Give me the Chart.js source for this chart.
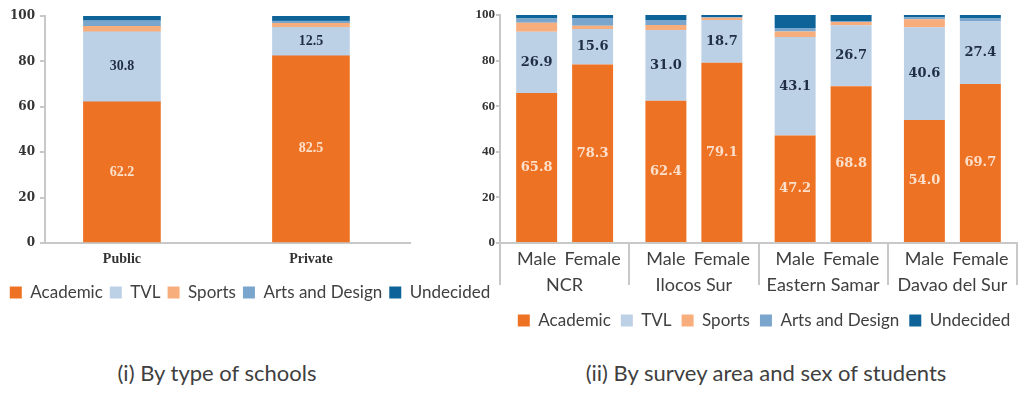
<!DOCTYPE html>
<html>
<head>
<meta charset="utf-8">
<script src="https://cdn.jsdelivr.net/npm/chart.js@4.4.1/dist/chart.umd.min.js"></script>
<style>
  html, body { margin:0; padding:0; background:#fff; overflow:hidden; width:1024px; height:395px; }
  canvas { position:absolute; top:0; }
  #chart-school { left:0; }
  #chart-area { left:452px; }
  .caption { position:absolute; top:359px; font:22px Lato, sans-serif; color:#404040; white-space:nowrap; transform:translateX(-50%); }
</style>
</head>
<body>
<canvas id="chart-school" width="500" height="313"></canvas>
<canvas id="chart-area" width="624" height="341"></canvas>
<div class="caption" style="left:217px">(i) By type of schools</div>
<div class="caption" style="left:766px">(ii) By survey area and sex of students</div>
<script>
/* ====== データ ====== */
const tracks = ['Academic','TVL','Sports','Arts and Design','Undecided'];
const trackColors = ['#EE7223','#BDD1E6','#F8AD7D','#7AA5CC','#0E6499'];

// (i) by type of schools
const schoolTypes = ['Public','Private'];
const academicBySchool  = [62.2, 82.5];
const tvlBySchool       = [30.8, 12.5];
const sportsBySchool    = [2.4, 1.8];
const artsBySchool      = [2.6, 1.0];
const undecidedBySchool = [2.0, 2.2];

// (ii) by survey area and sex
const regions = ['NCR','Ilocos Sur','Eastern Samar','Davao del Sur'];
const sexes = ['Male','Female'];
const academicMale    = [65.8, 62.4, 47.2, 54.0];
const academicFemale  = [78.3, 79.1, 68.8, 69.7];
const tvlMale         = [26.9, 31.0, 43.1, 40.6];
const tvlFemale       = [15.6, 18.7, 26.7, 27.4];
const sportsMale      = [3.9, 2.2, 2.5, 3.5];
const sportsFemale    = [1.4, 1.0, 1.4, 0.0];
const artsMale        = [1.9, 2.2, 1.5, 0.9];
const artsFemale      = [3.4, 0.2, 0.5, 1.4];
const undecidedMale   = [1.5, 2.2, 5.7, 1.0];
const undecidedFemale = [1.3, 1.0, 2.6, 1.5];

const yTicks = [0,20,40,60,80,100];

/* ====== 共通 ====== */
const AXIS = '#c8c8c8';
const TEXT = '#404040';
const valueColors = ['#FCE0CC','#1F2D45'];

// 値ラベル（Academic / TVL のみ）
const barLabels = {
  id:'barLabels',
  afterDatasetsDraw(chart, args, opts){
    const ctx = chart.ctx;
    chart.data.datasets.forEach((ds,i)=>{
      if(ds.valueColor==null) return;
      chart.getDatasetMeta(i).data.forEach((bar,j)=>{
        const raw = ds.data[j];
        const v = typeof raw==='object' ? raw.y : raw;
        const p = bar.getCenterPoint();
        ctx.save();
        ctx.font = opts.font;
        ctx.fillStyle = ds.valueColor;
        ctx.textAlign = 'center';
        ctx.textBaseline = 'middle';
        ctx.fillText(v.toFixed(1), p.x, p.y);
        ctx.restore();
      });
    });
  }
};

// Male / Female の下段ラベル
const sexLabels = {
  id:'sexLabels',
  afterDraw(chart){
    const ctx = chart.ctx;
    const y = chart.scales.x.top + 16;
    ctx.save();
    ctx.font = '18px Lato';
    ctx.fillStyle = TEXT;
    ctx.textAlign = 'center';
    ctx.textBaseline = 'middle';
    sexes.forEach((s,k)=>{
      chart.getDatasetMeta(k).data.forEach(bar=>ctx.fillText(s, bar.x, y));
    });
    ctx.restore();
  }
};

const legendOpts = {
  position:'bottom',
  labels:{ boxWidth:12, boxHeight:12, padding:7, color:TEXT, font:{family:'Lato', size:17} }
};

const spacer = w => ({
  type:'linear', position:'right', display:true,
  ticks:{display:false}, grid:{display:false}, border:{display:false},
  afterFit: s => { s.width = w; }
});

/* ====== (i) 学校種別 ====== */
const schoolSeries = [academicBySchool, tvlBySchool, sportsBySchool, artsBySchool, undecidedBySchool];
new Chart(document.getElementById('chart-school'), {
  type:'bar',
  data:{
    datasets: tracks.map((t,k)=>({
      label:t,
      data: schoolSeries[k].map((v,i)=>({x:i, y:v})),
      backgroundColor: trackColors[k],
      borderWidth:0,
      barThickness:77,
      grouped:false,
      valueColor: k<2 ? valueColors[k] : null
    }))
  },
  options:{
    responsive:false, animation:false,
    layout:{padding:{top:16, left:0, right:0, bottom:2}},
    plugins:{
      legend: legendOpts,
      tooltip:{enabled:false},
      barLabels:{font:'bold 14px "Liberation Serif"'}
    },
    scales:{
      x:{
        type:'linear', offset:false, min:-0.407, max:1.524,
        afterBuildTicks: s => { s.ticks = schoolTypes.map((_,i)=>({value:i})); },
        ticks:{ callback: v => schoolTypes[v], color:'#333', padding:8, font:{family:'Liberation Serif', size:14, weight:'bold'} },
        grid:{display:false, drawTicks:false},
        border:{color:AXIS, width:2},
        afterFit: s => { s.height = 34; }
      },
      y:{
        stacked:true, min:0, max:100,
        afterBuildTicks: s => { s.ticks = yTicks.map(v=>({value:v})); },
        ticks:{ color:'#333', padding:5, font:{family:'DejaVu Serif', size:12, weight:'bold'} },
        grid:{drawOnChartArea:false, tickLength:5, color:AXIS, lineWidth:2},
        border:{color:AXIS, width:2},
        afterFit: s => { s.width = 45; }
      },
      pad: spacer(90)
    }
  },
  plugins:[barLabels]
});

/* ====== (ii) 地域・性別 ====== */
const areaSeries = [
  [academicMale, academicFemale],
  [tvlMale, tvlFemale],
  [sportsMale, sportsFemale],
  [artsMale, artsFemale],
  [undecidedMale, undecidedFemale]
];
const areaDatasets = [];
tracks.forEach((t,k)=>{
  sexes.forEach((s,m)=>{
    areaDatasets.push({
      label:t,
      stack:s,
      data: areaSeries[k][m],
      backgroundColor: trackColors[k],
      borderWidth:0,
      categoryPercentage:0.866,
      barPercentage:0.732,
      valueColor: k<2 ? valueColors[k] : null
    });
  });
});

new Chart(document.getElementById('chart-area'), {
  type:'bar',
  data:{ labels: regions, datasets: areaDatasets },
  options:{
    responsive:false, animation:false,
    layout:{padding:{top:15, left:0, right:0, bottom:2}},
    plugins:{
      legend:{ ...legendOpts, labels:{ ...legendOpts.labels, padding:10, filter: item => item.datasetIndex % 2 === 0 } },
      tooltip:{enabled:false},
      barLabels:{font:'bold 13px "DejaVu Serif"'}
    },
    scales:{
      x:{
        stacked:true,
        ticks:{ color:TEXT, padding:-11, font:{family:'Lato', size:18} },
        grid:{ offset:true, drawOnChartArea:false, tickLength:42, color:AXIS, lineWidth:2 },
        border:{color:AXIS, width:2},
        afterFit: s => { s.height = 59; }
      },
      y:{
        stacked:true, min:0, max:100,
        afterBuildTicks: s => { s.ticks = yTicks.map(v=>({value:v})); },
        ticks:{ color:'#333', padding:1, font:{family:'Liberation Serif', size:13, weight:'bold'} },
        grid:{drawOnChartArea:false, tickLength:4, color:AXIS, lineWidth:2},
        border:{color:AXIS, width:2},
        afterFit: s => { s.width = 48; }
      },
      pad: spacer(59)
    }
  },
  plugins:[barLabels, sexLabels]
});
</script>
</body>
</html>
